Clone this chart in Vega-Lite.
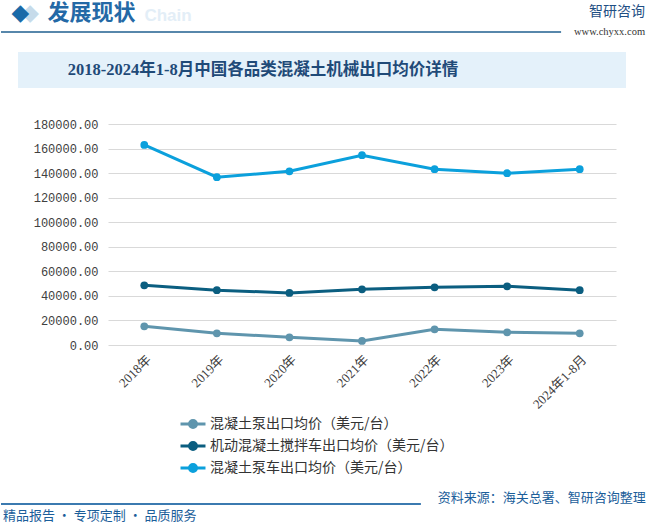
{
  "$schema": "https://vega.github.io/schema/vega-lite/v6.json",
  "background": "white",
  "padding": 0,
  "spacing": 8,
  "config": {"view": {"stroke": null}, "font": "Noto Sans CJK SC"},
  "vconcat": [
    {
      "width": 646,
      "height": 32,
      "data": {"values": [{"k": 1}]},
      "layer": [
        {
          "mark": {"type": "rule", "color": "#1f5f8f", "strokeWidth": 1.5},
          "encoding": {
            "x": {"datum": 0, "type": "quantitative", "scale": {"domain": [0, 1], "nice": false}, "axis": {"orient": "bottom", "labels": false, "ticks": false, "domain": false, "grid": false, "title": null, "minExtent": 12}},
            "x2": {"datum": 0.867},
            "y": {"datum": 0, "type": "quantitative", "scale": {"domain": [0, 1], "nice": false}, "axis": null}
          }
        },
        {
          "mark": {"type": "text", "text": "◆", "font": "DejaVu Sans", "fontSize": 23, "color": "#c6dbea", "align": "center", "baseline": "middle"},
          "encoding": {"x": {"datum": 0.045, "type": "quantitative"}, "y": {"datum": 0.6, "type": "quantitative"}}
        },
        {
          "mark": {"type": "text", "text": "◆", "font": "DejaVu Sans", "fontSize": 23, "color": "#1a6aa8", "align": "center", "baseline": "middle"},
          "encoding": {"x": {"datum": 0.03, "type": "quantitative"}, "y": {"datum": 0.6, "type": "quantitative"}}
        },
        {
          "mark": {"type": "text", "text": "Chain", "font": "Liberation Sans", "fontSize": 17, "fontWeight": "bold", "color": "#e3eef7", "align": "left", "baseline": "middle"},
          "encoding": {"x": {"datum": 0.222, "type": "quantitative"}, "y": {"datum": 0.5, "type": "quantitative"}}
        },
        {
          "mark": {"type": "text", "text": "发展现状", "fontSize": 22, "fontWeight": "bold", "color": "#2469a6", "align": "left", "baseline": "middle"},
          "encoding": {"x": {"datum": 0.072, "type": "quantitative"}, "y": {"datum": 0.6, "type": "quantitative"}}
        },
        {
          "mark": {"type": "text", "text": "智研咨询", "fontSize": 14, "color": "#1f4f84", "align": "right", "baseline": "middle"},
          "encoding": {"x": {"datum": 0.997, "type": "quantitative"}, "y": {"datum": 0.62, "type": "quantitative"}}
        },
        {
          "mark": {"type": "text", "text": "www.chyxx.com", "font": "Liberation Serif", "fontSize": 10.5, "color": "#333333", "align": "right", "baseline": "middle"},
          "encoding": {"x": {"datum": 0.997, "type": "quantitative"}, "y": {"datum": 0.01, "type": "quantitative"}}
        }
      ]
    },
    {
      "spacing": 16,
      "hconcat": [
        {
          "width": 1,
          "height": 1,
          "data": {"values": [{"k": 1}]},
          "mark": {"type": "point", "size": 0, "opacity": 0}
        },
        {
          "width": 608,
          "height": 36,
          "view": {"fill": "#e4f1fa", "stroke": null},
          "data": {"values": [{"t": "2018-2024年1-8月中国各品类混凝土机械出口均价详情"}]},
          "mark": {"type": "text", "align": "left", "baseline": "middle", "font": "Liberation Serif, Noto Sans CJK SC", "fontSize": 16.5, "fontWeight": "bold", "color": "#1f4a78"},
          "encoding": {
            "text": {"field": "t"},
            "x": {"datum": 0.082, "type": "quantitative", "scale": {"domain": [0, 1], "nice": false}, "axis": {"orient": "bottom", "labels": false, "ticks": false, "domain": false, "grid": false, "title": null, "minExtent": 22}},
            "y": {"datum": 0.5, "type": "quantitative", "scale": {"domain": [0, 1], "nice": false}, "axis": null}
          }
        }
      ]
    },
    {
      "spacing": 30,
      "hconcat": [
        {
          "width": 1,
          "height": 356,
          "data": {"values": [{"k": 1}]},
          "mark": {"type": "point", "size": 0, "opacity": 0}
        },
        {
          "width": 508,
          "height": 221,
          "data": {
            "values": [
              {"year": "2018年", "series": "混凝土泵出口均价（美元/台）", "value": 15200},
              {"year": "2019年", "series": "混凝土泵出口均价（美元/台）", "value": 9500},
              {"year": "2020年", "series": "混凝土泵出口均价（美元/台）", "value": 6300},
              {"year": "2021年", "series": "混凝土泵出口均价（美元/台）", "value": 3300},
              {"year": "2022年", "series": "混凝土泵出口均价（美元/台）", "value": 12800},
              {"year": "2023年", "series": "混凝土泵出口均价（美元/台）", "value": 10300},
              {"year": "2024年1-8月", "series": "混凝土泵出口均价（美元/台）", "value": 9500},
              {"year": "2018年", "series": "机动混凝土搅拌车出口均价（美元/台）", "value": 48600},
              {"year": "2019年", "series": "机动混凝土搅拌车出口均价（美元/台）", "value": 44600},
              {"year": "2020年", "series": "机动混凝土搅拌车出口均价（美元/台）", "value": 42400},
              {"year": "2021年", "series": "机动混凝土搅拌车出口均价（美元/台）", "value": 45400},
              {"year": "2022年", "series": "机动混凝土搅拌车出口均价（美元/台）", "value": 47000},
              {"year": "2023年", "series": "机动混凝土搅拌车出口均价（美元/台）", "value": 47800},
              {"year": "2024年1-8月", "series": "机动混凝土搅拌车出口均价（美元/台）", "value": 44600},
              {"year": "2018年", "series": "混凝土泵车出口均价（美元/台）", "value": 162900},
              {"year": "2019年", "series": "混凝土泵车出口均价（美元/台）", "value": 136700},
              {"year": "2020年", "series": "混凝土泵车出口均价（美元/台）", "value": 141500},
              {"year": "2021年", "series": "混凝土泵车出口均价（美元/台）", "value": 154600},
              {"year": "2022年", "series": "混凝土泵车出口均价（美元/台）", "value": 143200},
              {"year": "2023年", "series": "混凝土泵车出口均价（美元/台）", "value": 139900},
              {"year": "2024年1-8月", "series": "混凝土泵车出口均价（美元/台）", "value": 143200}
            ]
          },
          "encoding": {
            "x": {
              "field": "year", "type": "ordinal", "sort": null,
              "scale": {"type": "point", "padding": 0.5},
              "axis": {"title": null, "labelAngle": -45, "labelFont": "Liberation Serif, Noto Sans CJK SC", "labelFontSize": 13, "labelColor": "#404040", "ticks": false, "domain": false, "grid": false, "labelPadding": 8}
            },
            "y": {
              "field": "value", "type": "quantitative",
              "scale": {"domain": [0, 180000], "nice": false},
              "axis": {"title": null, "values": [0, 20000, 40000, 60000, 80000, 100000, 120000, 140000, 160000, 180000], "format": ".2f", "labelFont": "Liberation Mono", "labelFontSize": 12, "labelColor": "#404040", "ticks": false, "domain": false, "gridColor": "#d9d9d9", "labelPadding": 10, "minExtent": 76}
            },
            "color": {
              "field": "series", "type": "nominal",
              "scale": {"domain": ["混凝土泵出口均价（美元/台）", "机动混凝土搅拌车出口均价（美元/台）", "混凝土泵车出口均价（美元/台）"], "range": ["#5f95ad", "#0b5e80", "#0ba0dc"]},
              "legend": {
                "title": null, "orient": "none", "legendX": 184, "legendY": 416, "direction": "vertical",
                "labelFont": "Noto Sans CJK SC", "labelFontSize": 14, "labelColor": "#333333", "labelLimit": 0,
                "symbolType": "M-2,0H2M-0.56,0A0.56,0.56,0,1,0,0.56,0A0.56,0.56,0,1,0,-0.56,0Z",
                "symbolSize": 156, "symbolStrokeWidth": 3, "rowPadding": 2, "labelOffset": 9, "padding": 0,
                "encode": {"symbols": {"update": {"fill": {"scale": "color", "field": "value"}, "stroke": {"scale": "color", "field": "value"}, "opacity": {"value": 1}}}}
              }
            }
          },
          "layer": [
            {"mark": {"type": "line", "strokeWidth": 3}},
            {"mark": {"type": "point", "filled": true, "size": 60, "opacity": 1}}
          ]
        }
      ]
    },
    {
      "width": 646,
      "height": 36,
      "data": {"values": [{"k": 1}]},
      "layer": [
        {
          "mark": {"type": "rule", "color": "#3b7ab0", "strokeWidth": 2},
          "encoding": {
            "x": {"datum": 0, "type": "quantitative", "scale": {"domain": [0, 1], "nice": false}, "axis": null},
            "x2": {"datum": 0.65},
            "y": {"datum": 0.556, "type": "quantitative", "scale": {"domain": [0, 1], "nice": false}, "axis": null}
          }
        },
        {
          "mark": {"type": "text", "text": "精品报告 · 专项定制 · 品质服务", "fontSize": 13, "color": "#1b5e9a", "align": "left", "baseline": "middle"},
          "encoding": {"x": {"datum": 0.003, "type": "quantitative"}, "y": {"datum": 0.222, "type": "quantitative"}}
        },
        {
          "mark": {"type": "text", "text": "资料来源：海关总署、智研咨询整理", "fontSize": 13, "color": "#1b5e9a", "align": "right", "baseline": "middle"},
          "encoding": {"x": {"datum": 0.998, "type": "quantitative"}, "y": {"datum": 0.72, "type": "quantitative"}}
        }
      ]
    }
  ]
}
